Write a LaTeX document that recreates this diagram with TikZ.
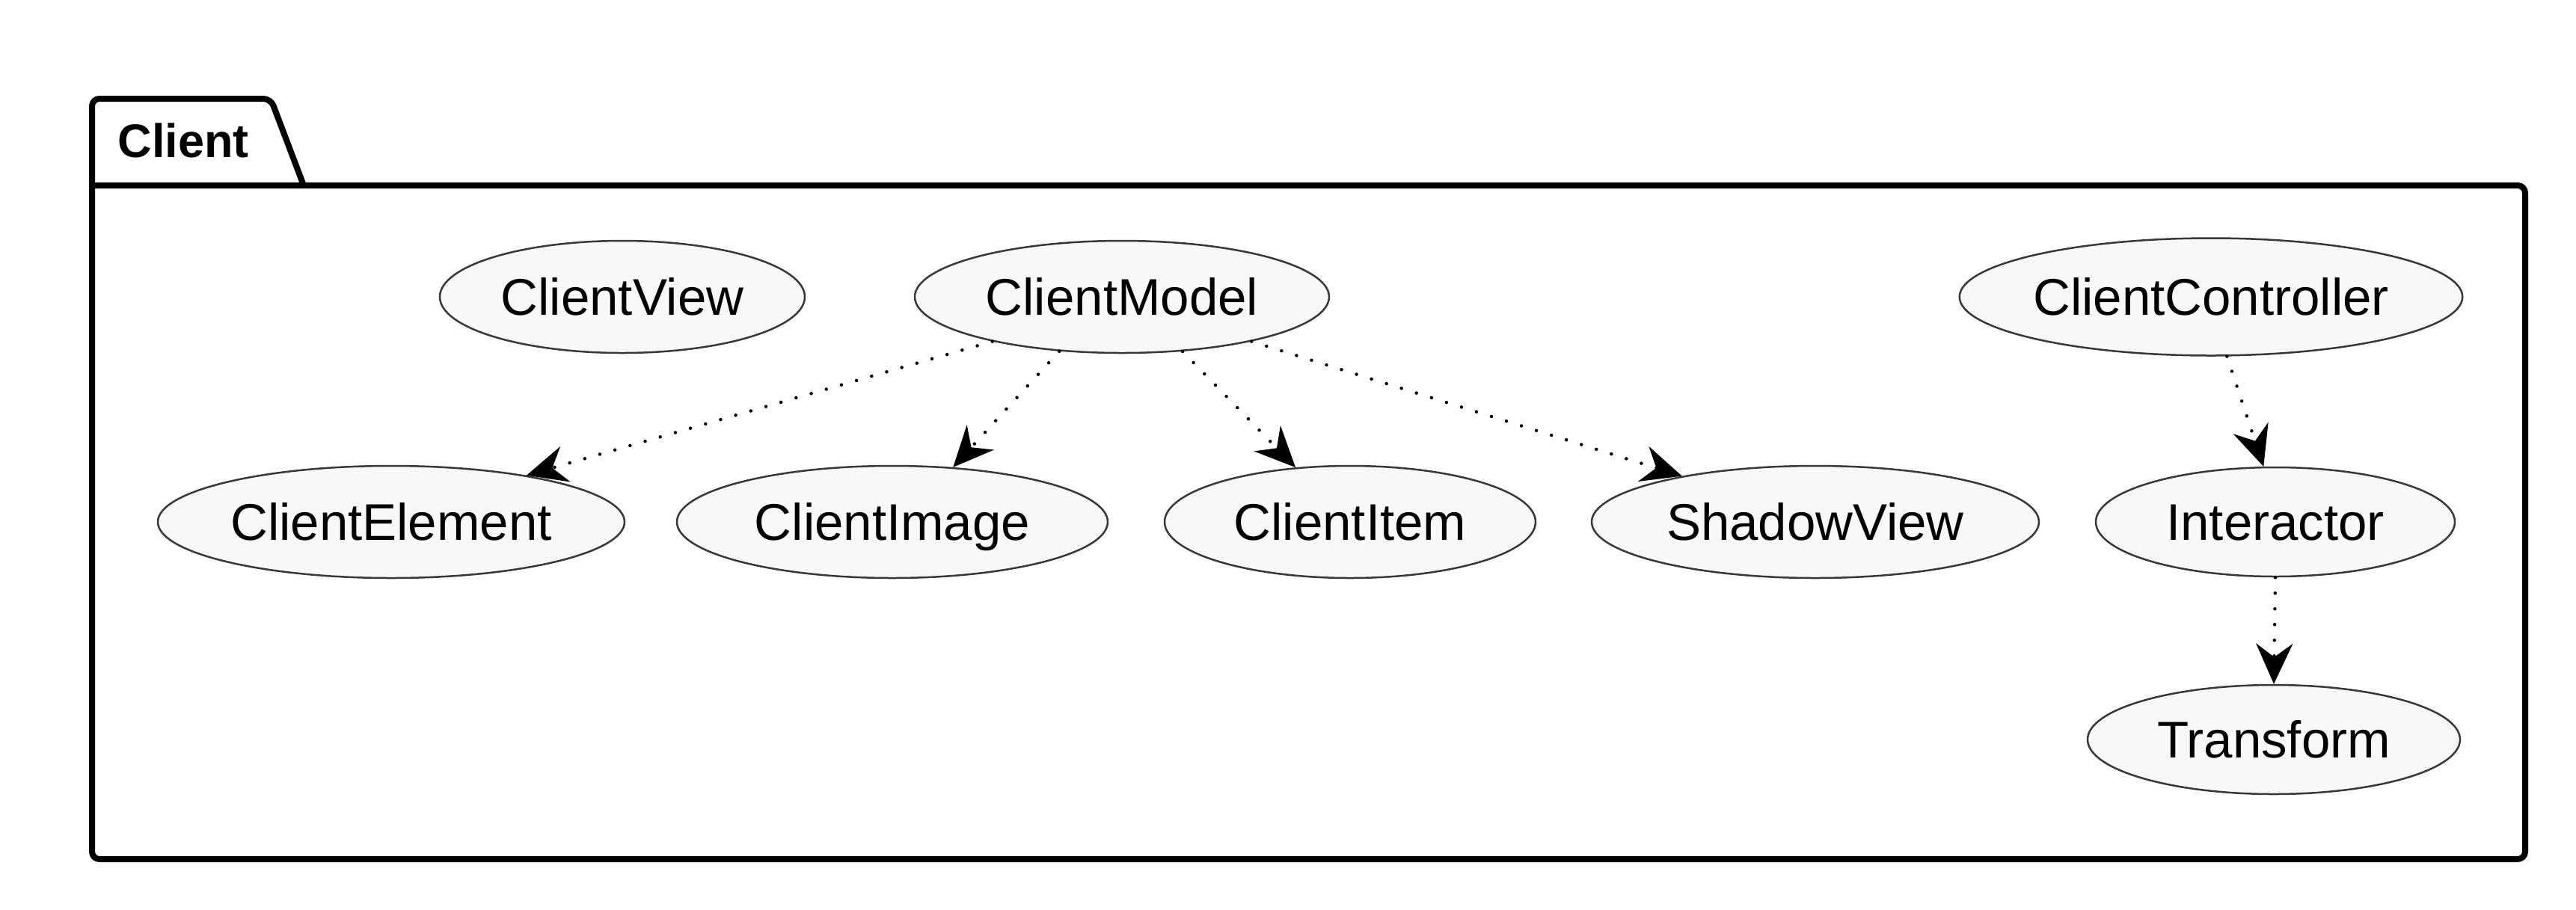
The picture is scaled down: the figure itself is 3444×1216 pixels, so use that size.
\documentclass[tikz,border=0pt]{standalone}
\usepackage{fontspec}
\setmainfont{Liberation Sans}
\usetikzlibrary{arrows.meta,shapes.geometric}
\definecolor{ufill}{HTML}{F8F8F8}
\definecolor{uline}{HTML}{383838}
\tikzset{
  uc/.style={ellipse, draw=uline, fill=ufill, line width=0.5pt, inner sep=0pt,
    minimum height=30pt, text height=9.9pt, text depth=0pt,
    font=\fontsize{13.8pt}{16pt}\selectfont},
  dep/.style={line width=0.9pt, dash pattern=on 0pt off 4.2pt, line cap=round,
    -{Stealth[length=10.8pt, width=9.8pt, inset=3.6pt, line cap=butt]}},
  pkg/.style={line width=1.6pt, rounded corners=2pt}
}
\begin{document}
\begin{tikzpicture}[x=0.2pt, y=-0.2pt]
\useasboundingbox (0,0) rectangle (3444,1216);
\draw[pkg] (406,248) -- (362,132) -- (123,132) -- (123,1149) -- (3376,1149) -- (3376,248) -- (123,248);
\node[anchor=base west, font=\fontsize{12.6pt}{16pt}\selectfont\bfseries] (pkgtitle) at (140,210) {Client};

\node[uc, minimum width=97.6pt] (cv) at (832,397) {ClientView};
\node[uc, minimum width=110.8pt] (cm) at (1500,397) {ClientModel};
\node[uc, minimum width=133.2pt, minimum height=31.4pt] (cc) at (2956,397) {ClientController};
\node[uc, minimum width=124.8pt] (ce) at (523,698) {ClientElement};
\node[uc, minimum width=115.2pt] (ci) at (1193,698) {ClientImage};
\node[uc, minimum width=99.2pt] (cit) at (1805,698) {ClientItem};
\node[uc, minimum width=119.6pt] (sv) at (2427,698) {ShadowView};
\node[uc, minimum width=96pt, minimum height=29.2pt] (int) at (3042,698) {Interactor};
\node[uc, minimum width=99.6pt, minimum height=29.2pt] (tr) at (3040,989) {Transform};

\draw[dep] (cm.199) -- (ce.19);
\draw[dep] (cm.221) -- (ci.42);
\draw[dep] (cm.318) -- (cit.135);
\draw[dep] (cm.341) -- (sv.161);
\draw[dep] (cc.285) -- (int.102);
\draw[dep] (int.south) -- (tr.north);
\end{tikzpicture}
\end{document}
